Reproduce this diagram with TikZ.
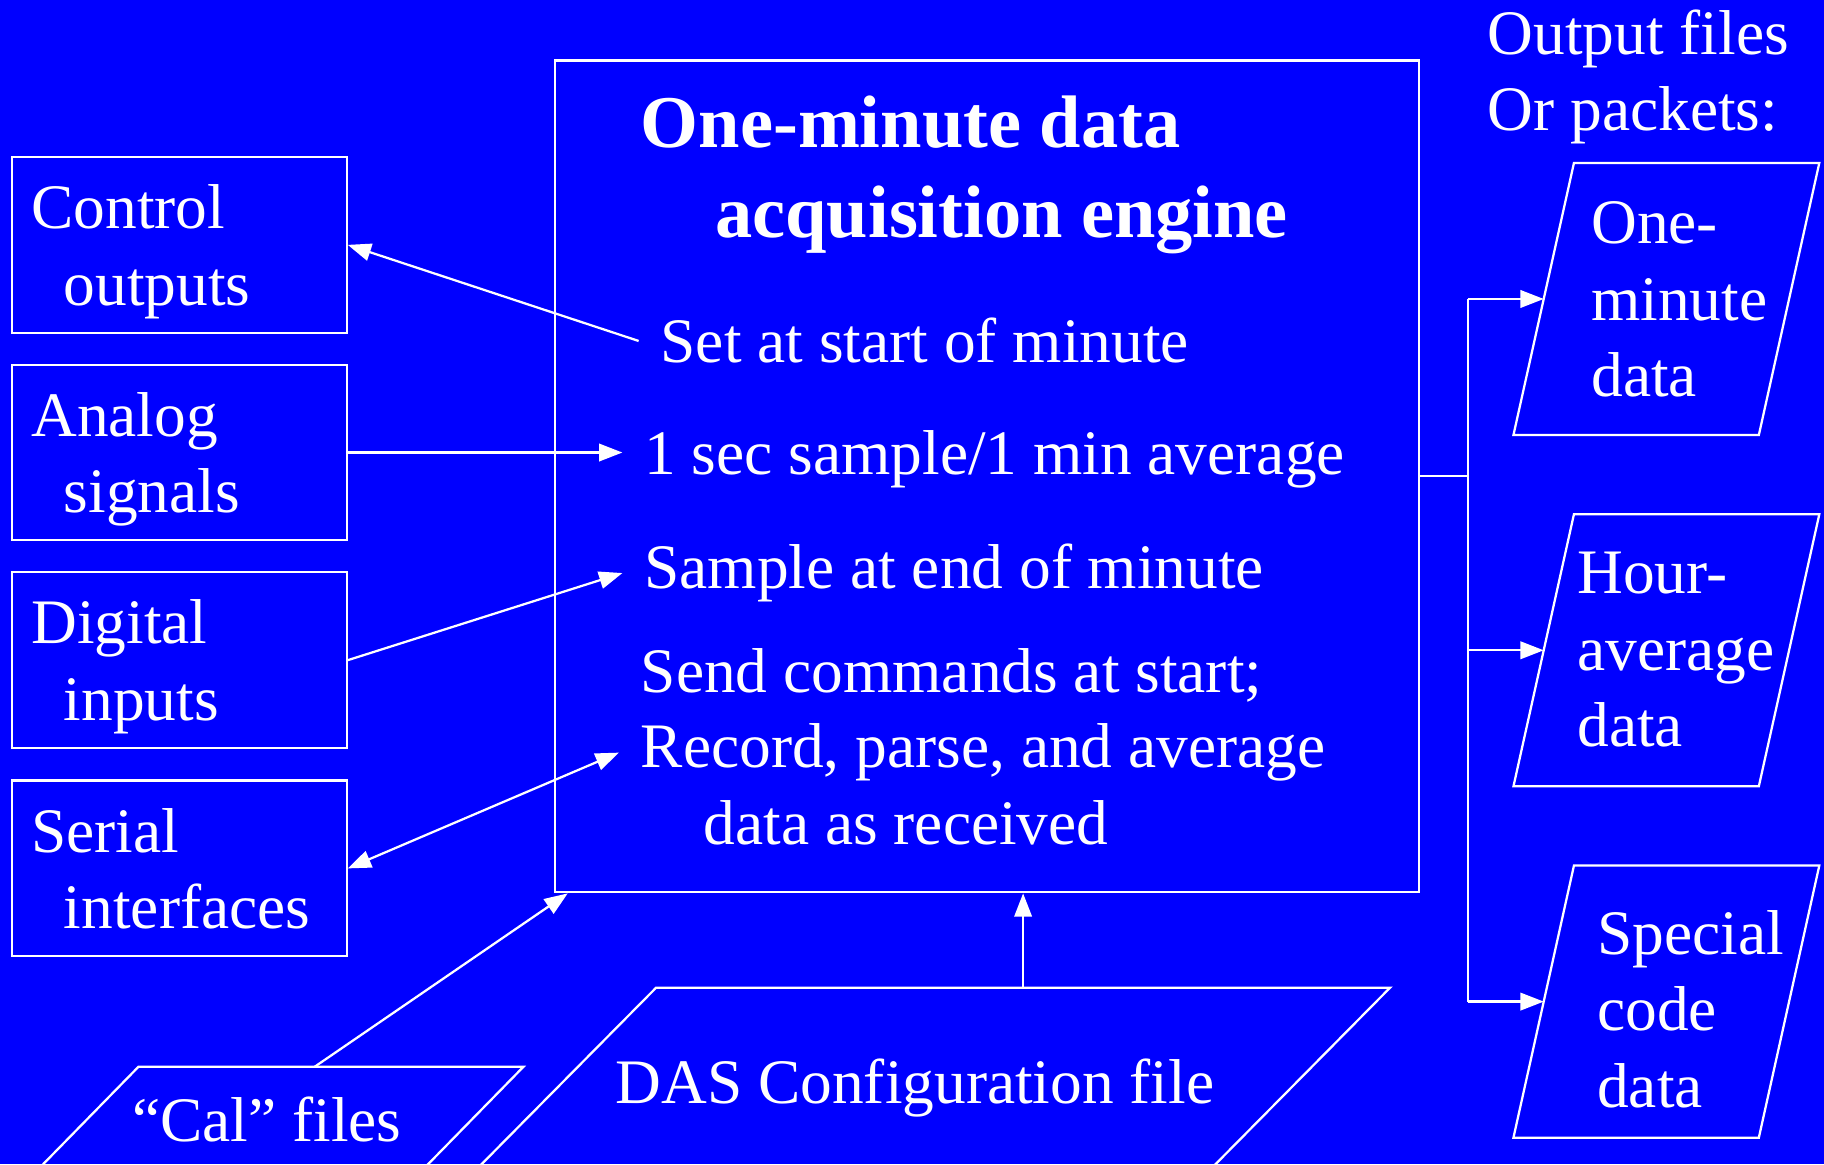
\documentclass[tikz,border=0pt]{standalone}
\usepackage{fontspec}
\setmainfont{Liberation Serif}
\usetikzlibrary{arrows.meta}
\definecolor{slideblue}{RGB}{0,0,255}
\newcommand{\outlines}[3]{\hspace*{#1}\begin{tabular}{@{}l@{}}\rule{0pt}{#2}#3\end{tabular}}
\newcommand{\nodesc}[1]{\raisebox{0pt}[\height][0pt]{#1}}

\begin{document}
\begin{tikzpicture}[line width=0.55pt,white,>={Triangle[length=0.2cm,width=0.15cm]},
inbox/.style={draw,rectangle,minimum width=2.88cm,minimum height=1.51cm,text width=2.54cm,inner xsep=0.17cm,align=left,font=\fontsize{15.5}{18.7}\selectfont},
engtxt/.style={anchor=base west,inner xsep=0.18cm,inner ysep=0pt,font=\fontsize{15.5}{18.6}\selectfont},
engtitle/.style={anchor=base west,inner sep=0pt,font=\fontsize{18.2}{21}\selectfont\bfseries},
para/.style={append after command={([xshift=#1]\tikzlastnode.north west) -- ([xshift=#1]\tikzlastnode.north east) -- ([xshift=-#1]\tikzlastnode.south east) -- ([xshift=-#1]\tikzlastnode.south west) -- cycle}},
outfile/.style={rectangle,minimum width=2.09cm,minimum height=2.32cm,text width=2.09cm,inner sep=0pt,align=left,font=\fontsize{15.5}{18.7}\selectfont,para=0.26cm},
infile/.style={rectangle,inner sep=0pt,font=\fontsize{15.5}{18.6}\selectfont}]

\useasboundingbox (0,0) rectangle (15.68,-10.01);
\clip (0,0) rectangle (15.68,-10.01);
\fill[slideblue] (0,0) rectangle (15.68,-10.01);

\draw (1.54,-2.105) node[inbox] (ctrl) {Control\\\hspace*{0.28cm}\nodesc{outputs}};
\draw (1.54,-3.89) node[inbox] (analog) {Analog\\\hspace*{0.28cm}\nodesc{signals}};
\draw (1.54,-5.675) node[inbox] (digital) {Digital\\\hspace*{0.28cm}\nodesc{inputs}};
\draw (1.54,-7.465) node[inbox] (serial) {Serial\\\hspace*{0.28cm}\nodesc{interfaces}};

\draw (8.485,-4.095) node[draw,rectangle,minimum width=7.43cm,minimum height=7.15cm] (engine) {};
\draw (5.50,-1.27) node[engtitle] (title1) {One-minute data};
\draw (6.14,-2.04) node[engtitle] (title2) {acquisition engine};
\draw (5.49,-3.12) node[engtxt] (setstart) {Set at start of minute};
\draw (5.35,-4.08) node[engtxt] (secavg) {1 sec sample/1 min average};
\draw (5.35,-5.06) node[engtxt] (sampleend) {Sample at end of minute};
\draw (5.32,-5.95) node[engtxt] (sendcmd) {Send commands at start;};
\draw (5.32,-6.60) node[engtxt] (record) {Record, parse, and average};
\draw (5.86,-7.26) node[engtxt] (asrecv) {data as received};

\draw (12.78,-0.072) node[anchor=north west,inner sep=0pt,align=left,font=\fontsize{15.5}{18.6}\selectfont] (outhead) {Output files\\Or packets:};
\draw (14.325,-2.57) node[outfile] (omd) {\outlines{0.40cm}{0.56cm}{One-\\minute\\data}};
\draw (14.325,-5.59) node[outfile] (hav) {\outlines{0.28cm}{0.54cm}{Hour-\\average\\data}};
\draw (14.325,-8.61) node[outfile] (spc) {\outlines{0.45cm}{0.70cm}{Special\\code\\data}};

\draw (2.405,-9.62) node[infile,minimum width=3.29cm,minimum height=0.88cm,para=0.44cm] (cal) {\hspace*{-0.22cm}“Cal” files};
\draw (7.945,-9.35) node[infile,minimum width=6.29cm,minimum height=1.70cm,para=0.85cm] (das) {\hspace*{-0.16cm}DAS Configuration file};

\draw[->] (setstart.west) -- (ctrl.east);
\draw[->] (analog.east) -- (analog.east -| secavg.west);
\draw[->] (digital.east) -- (sampleend.west);
\draw[<->] (serial.east) -- (record.west);
\draw[->] ([xshift=0.3cm]cal.north) -- ([xshift=0.12cm]engine.south west);
\draw[->] ([xshift=0.85cm]das.north) -- ([xshift=0.85cm]das.north |- engine.south);

\draw (engine.east) -- ++(0.41,0) coordinate (bus);
\draw (bus |- omd.west) -- (bus |- spc.west);
\foreach \n in {omd,hav,spc}
  \draw[->] (bus |- \n.west) -- (\n.west);
\end{tikzpicture}
\end{document}
